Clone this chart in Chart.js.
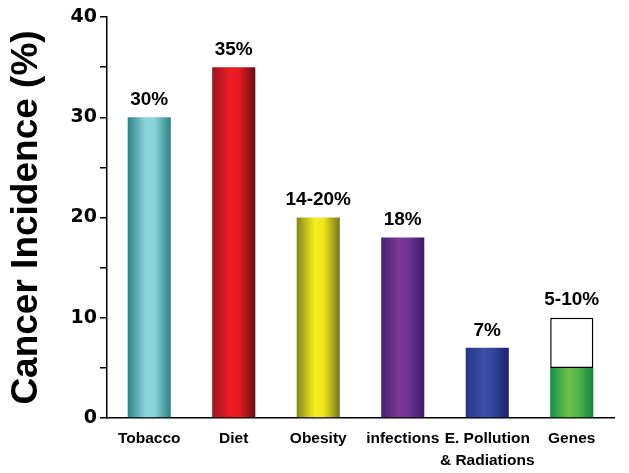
<!DOCTYPE html>
<html>
<head>
<meta charset="utf-8">
<script src="https://cdn.jsdelivr.net/npm/chart.js@4"></script>
<style>
  html, body { margin: 0; padding: 0; background: #fff; }
  #wrap { width: 629px; height: 473px; }
</style>
</head>
<body>
<div id="wrap"><canvas id="chart"></canvas></div>
<script>
const categories = ['Tobacco', 'Diet', 'Obesity', 'infections', ['E. Pollution', '& Radiations'], 'Genes'];
const baseValues = [30, 35, 20, 18, 7, 5];
const rangeValues = [0, 0, 0, 0, 0, 5];      // open part of the Genes bar (5-10%)
const barLabels = ['30%', '35%', '14-20%', '18%', '7%', '5-10%'];
const yTicks = [0, 10, 20, 30, 40];

// cylinder shading: edge, highlight, highlight, edge
const shades = [
    ['#2a8484', '#8ed4dd', '#8bd2db', '#2c8381'],
    ['#9c171c', '#ee1c25', '#e81b23', '#650e12'],
    ['#88861c', '#f3ef1e', '#eee81a', '#77741f'],
    ['#462273', '#7b3a97', '#713594', '#3b1c68'],
    ['#26358a', '#3c50a5', '#34479c', '#1b226c'],
    ['#14904a', '#6cc14a', '#58b748', '#0d8740']
];

const barPct = 0.51;

function cylinder(c) {
    const chart = c.chart;
    const xs = chart.scales.x;
    if (!chart.chartArea || !xs) return shades[c.dataIndex][1];
    const cx = xs.getPixelForValue(c.dataIndex);
    const w = xs.width / categories.length * barPct;
    const g = chart.ctx.createLinearGradient(cx - w / 2, 0, cx + w / 2, 0);
    const s = shades[c.dataIndex];
    g.addColorStop(0, s[0]);
    g.addColorStop(0.42, s[1]);
    g.addColorStop(0.62, s[2]);
    g.addColorStop(1, s[3]);
    return g;
}

const topLabels = {
    id: 'topLabels',
    afterDatasetsDraw(chart) {
        const ctx = chart.ctx;
        const xs = chart.scales.x, ys = chart.scales.y;
        ctx.save();
        ctx.font = 'bold 19px "Liberation Sans", Arial, sans-serif';
        ctx.fillStyle = '#000';
        ctx.textAlign = 'center';
        ctx.textBaseline = 'bottom';
        barLabels.forEach((t, i) => {
            const top = ys.getPixelForValue(baseValues[i] + rangeValues[i]);
            ctx.fillText(t, xs.getPixelForValue(i), top - 8);
        });
        ctx.restore();
    }
};

new Chart(document.getElementById('chart'), {
    type: 'bar',
    data: {
        labels: categories,
        datasets: [{
            data: baseValues,
            backgroundColor: cylinder,
            borderWidth: 0,
            barPercentage: barPct,
            categoryPercentage: 1
        }, {
            data: rangeValues,
            backgroundColor: '#ffffff',
            borderColor: '#000000',
            borderWidth: 1.5,
            borderSkipped: false,
            barPercentage: barPct,
            categoryPercentage: 1
        }]
    },
    options: {
        responsive: true,
        maintainAspectRatio: false,
        animation: false,
        layout: { padding: { left: 2, right: 15, top: 17, bottom: 0 } },
        plugins: {
            legend: { display: false },
            tooltip: { enabled: false }
        },
        scales: {
            x: {
                stacked: true,
                grid: { drawOnChartArea: false, drawTicks: false },
                border: { color: '#000', width: 1.5 },
                ticks: {
                    color: '#000',
                    padding: 9,
                    maxRotation: 0,
                    autoSkip: false,
                    font: { family: '"Liberation Sans", Arial, sans-serif', size: 15.5, weight: 'bold', lineHeight: 1.45 }
                },
                afterFit: s => { s.height = 55; }
            },
            y: {
                stacked: true,
                min: 0,
                max: 40,
                grid: { drawOnChartArea: false, tickLength: 7, color: '#000', lineWidth: 1.5 },
                border: { color: '#000', width: 1.5 },
                ticks: {
                    stepSize: 5,
                    color: '#000',
                    padding: 3,
                    font: { family: '"DejaVu Sans", sans-serif', size: 19, weight: 'bold' },
                    callback: v => yTicks.includes(v) ? v : ''
                },
                title: {
                    display: true,
                    text: 'Cancer Incidence (%)',
                    color: '#000',
                    padding: { top: 3, bottom: 4 },
                    font: { family: '"Liberation Sans", Arial, sans-serif', size: 37, weight: 'bold' }
                },
                afterFit: s => { s.width = 105; }
            }
        }
    },
    plugins: [topLabels]
});
</script>
</body>
</html>
